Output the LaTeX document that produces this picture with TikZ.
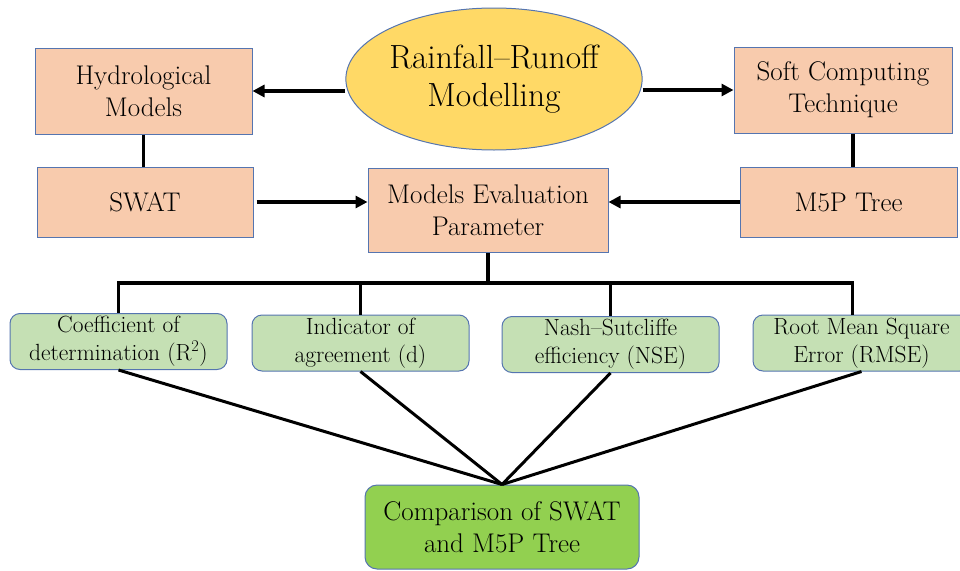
\documentclass[tikz,border=0pt]{standalone}
\usepackage{fontspec}
\usetikzlibrary{arrows.meta,shapes.geometric,calc}

\definecolor{peach}{HTML}{F8CBAD}
\definecolor{sun}{HTML}{FFD966}
\definecolor{mint}{HTML}{C5E0B4}
\definecolor{lime}{HTML}{92D050}
\definecolor{edge}{HTML}{5575B0}

\tikzset{
  box/.style={draw=edge, line width=1pt, fill=peach, align=center,
    inner sep=0pt, font=\fontsize{27}{32}\selectfont},
  metric/.style={draw=edge, line width=1pt, fill=mint, rounded corners=10pt,
    align=center, inner sep=0pt, minimum width=217pt, minimum height=56pt,
    font=\fontsize{23.4}{28}\selectfont},
  link/.style={line width=3.6pt},
  arr/.style={link, -{Triangle[length=12pt,width=12pt]}},
  fan/.style={line width=3pt},
}

\begin{document}
\begin{tikzpicture}[x=1pt,y=-1pt]
  \useasboundingbox (0,0) rectangle (960,570);

  % top row
  \node[ellipse, draw=edge, line width=1pt, fill=sun, minimum width=282pt,
        minimum height=142pt, inner sep=0pt, align=center,
        font=\fontsize{33.5}{38}\selectfont] (ell) at (494,79)
        {Rainfall–Runoff\\Modelling};
  \node[box, minimum width=217pt, minimum height=86pt] (hyd) at (143.5,91)
        {Hydrological\\Models};
  \node[box, minimum width=218pt, minimum height=86pt] (soft) at (843,90)
        {Soft Computing\\Technique};

  % second row
  \node[box, minimum width=216pt, minimum height=70pt] (swat) at (145,202) {SWAT};
  \node[box, minimum width=217pt, minimum height=70pt] (m5p) at (848.5,202) {M5P Tree};
  \node[box, minimum width=240pt, minimum height=84pt] (eval) at (488,210)
        {Models Evaluation\\Parameter};

  % evaluation metrics
  \node[metric] (g1) at (118.5,341.5) {Coefficient of\\determination (R\textsuperscript{2})};
  \node[metric] (g2) at (360.5,343) {Indicator of\\agreement (d)};
  \node[metric] (g3) at (610.5,344.5) {Nash–Sutcliffe\\efficiency (NSE)};
  \node[metric] (g4) at (861.5,343) {Root Mean Square\\Error (RMSE)};

  % result
  \node[draw=edge, line width=1pt, fill=lime, rounded corners=12pt, align=center,
        inner sep=0pt, minimum width=274pt, minimum height=84pt,
        font=\fontsize{27}{32}\selectfont] (cmp) at (502,527)
        {Comparison of SWAT\\and M5P Tree};

  % arrows from the central ellipse
  \draw[arr] (hyd.east -| ell.west) -- (hyd.east);
  \draw[arr] (soft.west -| ell.east) -- (soft.west);

  % model links
  \draw[link] (hyd.south) -- (hyd.south |- swat.north);
  \draw[link] ([xshift=10pt]soft.south) -- ([xshift=10pt]soft.south |- m5p.north);
  \draw[arr] ([xshift=3pt]swat.east) -- (swat.east -| eval.west);
  \draw[arr] (m5p.west) -- (m5p.west -| eval.east);

  % bus to the metrics
  \coordinate (bus) at (0,283);
  \coordinate (d4) at ([xshift=-9pt]g4.north);
  \draw[link] (eval.south) -- (eval.south |- bus);
  \draw[link, line cap=rect] (g1.north |- bus) -- (d4 |- bus);
  \draw[link] (g1.north |- bus) -- (g1.north);
  \draw[link] (g2.north |- bus) -- (g2.north);
  \draw[link] (g3.north |- bus) -- (g3.north);
  \draw[link] (d4 |- bus) -- (d4);

  % metrics converge on the comparison
  \draw[fan] (g1.south) -- (cmp.north);
  \draw[fan] (g2.south) -- (cmp.north);
  \draw[fan] (g3.south) -- (cmp.north);
  \draw[fan] (g4.south) -- (cmp.north);
\end{tikzpicture}
\end{document}
